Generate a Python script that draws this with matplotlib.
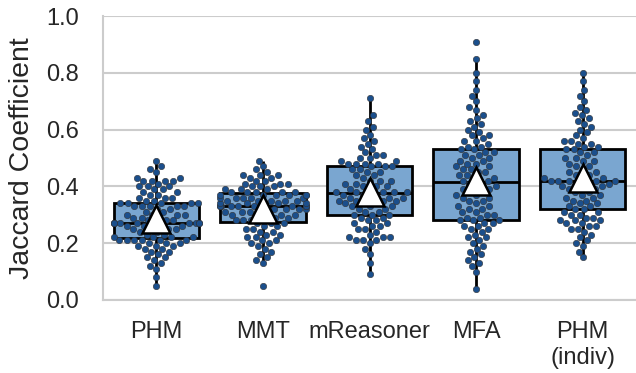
import numpy as np
import pandas as pd
import matplotlib.pyplot as plt
import seaborn as sns

# =========================================================
# DATA
# =========================================================

models = ["PHM", "MMT", "mReasoner", "MFA", "PHM\n(indiv)"]

phm = [0.05, 0.08, 0.11, 0.12, 0.13, 0.14, 0.15, 0.15, 0.16, 0.17, 0.17, 0.18, 0.18,
       0.19, 0.19, 0.19, 0.20, 0.20, 0.20, 0.21, 0.21, 0.21, 0.21, 0.21, 0.21,
       0.22, 0.22, 0.22, 0.22, 0.23, 0.23, 0.24, 0.24, 0.25, 0.25, 0.25, 0.25, 0.26,
       0.26, 0.26, 0.26, 0.27, 0.27, 0.27, 0.27, 0.27, 0.27, 0.27, 0.27, 0.27,
       0.27, 0.28, 0.28, 0.28, 0.29, 0.29, 0.29, 0.30, 0.30, 0.30, 0.30, 0.31, 0.31,
       0.32, 0.32, 0.33, 0.33, 0.33, 0.33, 0.33, 0.34, 0.34, 0.34, 0.34, 0.34,
       0.35, 0.35, 0.36, 0.36, 0.36, 0.37, 0.37, 0.38, 0.38, 0.39, 0.39, 0.40, 0.40,
       0.40, 0.41, 0.42, 0.42, 0.42, 0.42, 0.43, 0.43, 0.45, 0.46, 0.47, 0.49]

mmt = [0.05, 0.13, 0.14, 0.15, 0.16, 0.17, 0.18, 0.19, 0.20, 0.20, 0.21, 0.21, 0.22,
       0.22, 0.23, 0.23, 0.24, 0.24, 0.25, 0.25, 0.26, 0.26, 0.27, 0.27, 0.27,
       0.28, 0.28, 0.28, 0.29, 0.29, 0.29, 0.30, 0.30, 0.30, 0.30, 0.31, 0.31, 0.31,
       0.31, 0.32, 0.32, 0.32, 0.32, 0.32, 0.33, 0.33, 0.33, 0.33, 0.33, 0.33,
       0.33, 0.33, 0.33, 0.34, 0.34, 0.34, 0.34, 0.34, 0.35, 0.35, 0.35, 0.35, 0.35,
       0.36, 0.36, 0.36, 0.36, 0.36, 0.37, 0.37, 0.37, 0.37, 0.37, 0.37, 0.38,
       0.38, 0.38, 0.38, 0.38, 0.39, 0.39, 0.39, 0.40, 0.40, 0.40, 0.41, 0.41, 0.41,
       0.42, 0.42, 0.43, 0.43, 0.44, 0.44, 0.44, 0.45, 0.46, 0.47, 0.49]

mreasoner = [0.09, 0.13, 0.16, 0.18, 0.20, 0.21, 0.21, 0.21, 0.22, 0.22, 0.22, 0.23,
             0.24, 0.25, 0.25, 0.26, 0.26, 0.27, 0.27, 0.28, 0.28, 0.29, 0.29, 0.30, 0.30,
             0.30, 0.31, 0.31, 0.32, 0.32, 0.33, 0.33, 0.33, 0.34, 0.34, 0.34, 0.35,
             0.35, 0.35, 0.35, 0.36, 0.36, 0.36, 0.36, 0.37, 0.37, 0.37, 0.38, 0.38, 0.38,
             0.38, 0.38, 0.39, 0.39, 0.40, 0.40, 0.40, 0.41, 0.41, 0.42, 0.42, 0.42,
             0.43, 0.44, 0.44, 0.45, 0.45, 0.46, 0.46, 0.47, 0.47, 0.47, 0.48, 0.48, 0.48,
             0.48, 0.49, 0.49, 0.50, 0.50, 0.51, 0.51, 0.52, 0.53, 0.54, 0.55, 0.56,
             0.57, 0.58, 0.60, 0.61, 0.63, 0.65, 0.71]

mfa = [0.04, 0.10, 0.12, 0.13, 0.14, 0.15, 0.16, 0.17, 0.18, 0.19, 0.20, 0.21, 0.22,
       0.22, 0.23, 0.24, 0.25, 0.25, 0.26, 0.26, 0.27, 0.27, 0.28, 0.28, 0.28,
       0.29, 0.29, 0.30, 0.30, 0.31, 0.31, 0.32, 0.32, 0.33, 0.33, 0.34, 0.35, 0.35,
       0.36, 0.36, 0.37, 0.37, 0.38, 0.38, 0.39, 0.39, 0.40, 0.40, 0.41, 0.42,
       0.42, 0.42, 0.43, 0.43, 0.44, 0.44, 0.45, 0.45, 0.46, 0.46, 0.47, 0.47, 0.48,
       0.48, 0.49, 0.49, 0.50, 0.50, 0.51, 0.51, 0.52, 0.52, 0.53, 0.53, 0.54,
       0.54, 0.55, 0.56, 0.56, 0.57, 0.58, 0.58, 0.59, 0.60, 0.61, 0.62, 0.63, 0.64,
       0.65, 0.67, 0.68, 0.70, 0.72, 0.74, 0.77, 0.80, 0.85, 0.91]

phm_indiv = [0.15, 0.17, 0.19, 0.20, 0.21, 0.22, 0.23, 0.24, 0.25, 0.25, 0.26, 0.26,
             0.27, 0.27, 0.28, 0.28, 0.28, 0.29, 0.29, 0.30, 0.30, 0.31, 0.31, 0.32, 0.32,
             0.33, 0.33, 0.34, 0.34, 0.35, 0.35, 0.36, 0.36, 0.37, 0.37, 0.38, 0.38,
             0.39, 0.39, 0.40, 0.40, 0.40, 0.41, 0.41, 0.41, 0.42, 0.42, 0.42, 0.42, 0.42,
             0.43, 0.43, 0.43, 0.44, 0.44, 0.45, 0.45, 0.46, 0.47, 0.47, 0.48, 0.49,
             0.49, 0.50, 0.50, 0.51, 0.52, 0.52, 0.53, 0.53, 0.54, 0.54, 0.55, 0.55, 0.56,
             0.56, 0.57, 0.58, 0.59, 0.60, 0.61, 0.62, 0.63, 0.64, 0.65, 0.66, 0.67,
             0.68, 0.70, 0.72, 0.74, 0.77, 0.80]

all_scores = [phm, mmt, mreasoner, mfa, phm_indiv]

# long-form table for seaborn
rows = []
for name, vals in zip(models, all_scores):
    for v in vals:
        rows.append({"Model": name, "Jaccard": v})
df = pd.DataFrame(rows)

# =========================================================
# PLOT
# =========================================================

sns.set_style("whitegrid")
plt.rcParams['font.family'] = ['Liberation Sans', 'DejaVu Sans']

fig = plt.figure(figsize=(6.36, 3.73), dpi=100)
ax = fig.add_axes([0.162, 0.196, 0.838, 0.761])

sns.boxplot(
    data=df, x="Model", y="Jaccard", order=models,
    color="#7aa6d0", saturation=1, width=0.8, showfliers=False,
    showmeans=True,
    meanprops=dict(marker="^", markerfacecolor="white", markeredgecolor="black",
                   markersize=20, markeredgewidth=1.8),
    boxprops=dict(edgecolor="black", linewidth=2),
    medianprops=dict(color="black", linewidth=2),
    whiskerprops=dict(color="black", linewidth=2),
    capprops=dict(linewidth=0),
    ax=ax, zorder=2,
)

sns.swarmplot(
    data=df, x="Model", y="Jaccard", order=models,
    color="#1b4f8c", size=4.6, edgecolor="gray", linewidth=0.4,
    ax=ax, zorder=3,
)

# bring mean markers on top of the swarm
for line in ax.lines:
    if line.get_marker() == "^":
        line.set_zorder(5)

ax.set_ylim(0, 1.0)
ax.set_xlim(-0.5, 4.5)
ax.set_yticks([0.0, 0.2, 0.4, 0.6, 0.8, 1.0])
ax.set_xlabel("")
ax.set_ylabel("Jaccard Coefficient", fontsize=20.5, color="#262626", labelpad=8)
ax.tick_params(axis="both", labelsize=17, colors="#262626")
ax.tick_params(axis="y", pad=14)
ax.tick_params(axis="x", pad=12)
ax.grid(True, axis="y", color="#cccccc", linewidth=1.5)
ax.grid(False, axis="x")
for s in ["top", "right"]:
    ax.spines[s].set_visible(False)
for s in ["left", "bottom"]:
    ax.spines[s].set_color("#cccccc")
    ax.spines[s].set_linewidth(1.5)

fig.savefig("out.png", dpi=100)
